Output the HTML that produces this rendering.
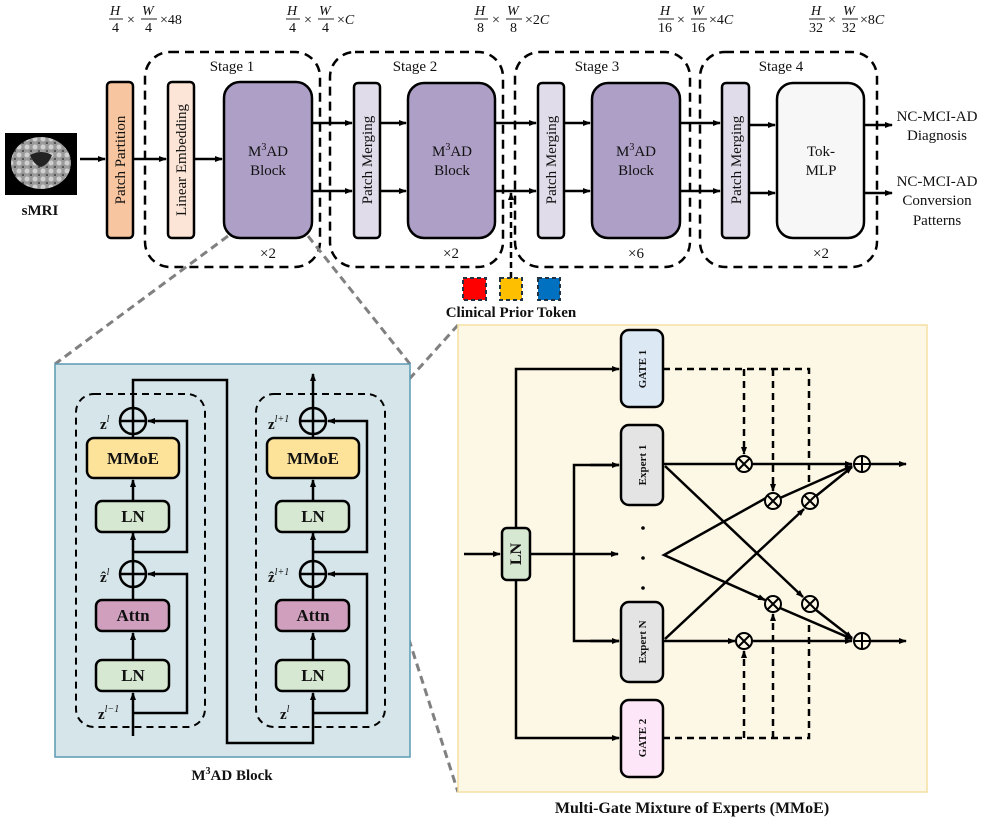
<!DOCTYPE html>
<html><head><meta charset="utf-8"><style>
html,body{margin:0;padding:0;background:#fff}
svg{display:block}
text{font-family:"Liberation Serif",serif;fill:#111}
</style></head><body>
<svg width="997" height="830" viewBox="0 0 997 830" xmlns="http://www.w3.org/2000/svg">
<defs>
<marker id="a" markerWidth="8" markerHeight="8" refX="7" refY="4" orient="auto" markerUnits="userSpaceOnUse"><path d="M0,1 L8,4 L0,7 z" fill="#000"/></marker>
<pattern id="brain" width="8" height="8" patternUnits="userSpaceOnUse"><rect width="8" height="8" fill="#9a9a9a"/><circle cx="3" cy="3" r="2.5" fill="#d0d0d0"/><circle cx="7" cy="7" r="1.3" fill="#555"/></pattern>
</defs>

<!-- top formulas -->
<g font-size="14" font-style="italic">
<g transform="translate(110,0)"><text x="0" y="15">H</text><line x1="-1" y1="19" x2="13" y2="19" stroke="#222"/><text x="2" y="32" font-style="normal">4</text><text x="17" y="24" font-style="normal">×</text><text x="32" y="15">W</text><line x1="31" y1="19" x2="47" y2="19" stroke="#222"/><text x="35" y="32" font-style="normal">4</text><text x="50" y="24" font-style="normal">×48</text></g>
<g transform="translate(287,0)"><text x="0" y="15">H</text><line x1="-1" y1="19" x2="13" y2="19" stroke="#222"/><text x="2" y="32" font-style="normal">4</text><text x="17" y="24" font-style="normal">×</text><text x="32" y="15">W</text><line x1="31" y1="19" x2="47" y2="19" stroke="#222"/><text x="35" y="32" font-style="normal">4</text><text x="50" y="24"><tspan font-style="normal">×</tspan>C</text></g>
<g transform="translate(475,0)"><text x="0" y="15">H</text><line x1="-1" y1="19" x2="13" y2="19" stroke="#222"/><text x="2" y="32" font-style="normal">8</text><text x="17" y="24" font-style="normal">×</text><text x="32" y="15">W</text><line x1="31" y1="19" x2="47" y2="19" stroke="#222"/><text x="35" y="32" font-style="normal">8</text><text x="50" y="24"><tspan font-style="normal">×2</tspan>C</text></g>
<g transform="translate(659,0)"><text x="1" y="15">H</text><line x1="-1" y1="19" x2="15" y2="19" stroke="#222"/><text x="-1" y="32" font-style="normal">16</text><text x="18" y="24" font-style="normal">×</text><text x="33" y="15">W</text><line x1="32" y1="19" x2="48" y2="19" stroke="#222"/><text x="32" y="32" font-style="normal">16</text><text x="50" y="24"><tspan font-style="normal">×4</tspan>C</text></g>
<g transform="translate(810,0)"><text x="1" y="15">H</text><line x1="-1" y1="19" x2="15" y2="19" stroke="#222"/><text x="-1" y="32" font-style="normal">32</text><text x="18" y="24" font-style="normal">×</text><text x="33" y="15">W</text><line x1="32" y1="19" x2="48" y2="19" stroke="#222"/><text x="32" y="32" font-style="normal">32</text><text x="50" y="24"><tspan font-style="normal">×8</tspan>C</text></g>
</g>

<!-- stage boxes -->
<g fill="none" stroke="#000" stroke-width="2.5" stroke-dasharray="9,6">
<rect x="145" y="52" width="175" height="215" rx="25"/>
<rect x="330" y="52" width="173" height="215" rx="25"/>
<rect x="515" y="52" width="175" height="215" rx="25"/>
<rect x="700" y="52" width="177" height="215" rx="25"/>
</g>
<g font-size="15" text-anchor="middle">
<text x="232" y="71">Stage 1</text><text x="415" y="71">Stage 2</text><text x="597" y="71">Stage 3</text><text x="781" y="71">Stage 4</text>
<text x="268" y="258">×2</text><text x="451" y="258">×2</text><text x="636" y="258">×6</text><text x="821" y="258">×2</text>
</g>

<!-- sMRI -->
<rect x="5" y="133" width="72" height="62" fill="#000"/>
<ellipse cx="41" cy="163" rx="30" ry="26" fill="url(#brain)"/>
<path d="M30,155 q11,-6 22,0 q-4,10 -11,12 q-7,-2 -11,-12z" fill="#222"/>
<text x="40" y="215" font-size="15" font-weight="bold" text-anchor="middle">sMRI</text>

<!-- boxes -->
<g stroke="#000" stroke-width="2.5">
<rect x="107" y="82" width="26" height="156" rx="4" fill="#f7c59f"/>
<rect x="168" y="82" width="26" height="156" rx="4" fill="#fce4d6"/>
<rect x="224" y="82" width="88" height="156" rx="16" fill="#ae9fc6"/>
<rect x="354" y="83" width="26" height="155" rx="4" fill="#e0dcea"/>
<rect x="408" y="83" width="87" height="155" rx="16" fill="#ae9fc6"/>
<rect x="538" y="83" width="26" height="155" rx="4" fill="#e0dcea"/>
<rect x="592" y="83" width="88" height="155" rx="16" fill="#ae9fc6"/>
<rect x="722" y="83" width="27" height="155" rx="4" fill="#e0dcea"/>
<rect x="777" y="83" width="87" height="155" rx="16" fill="#f7f7f7"/>
</g>
<g font-size="15" text-anchor="middle">
<text transform="translate(125,160) rotate(-90)">Patch Partition</text>
<text transform="translate(186,160) rotate(-90)">Linear Embedding</text>
<text transform="translate(372,160) rotate(-90)">Patch Merging</text>
<text transform="translate(556,160) rotate(-90)">Patch Merging</text>
<text transform="translate(741,160) rotate(-90)">Patch Merging</text>
<text x="268" y="156">M<tspan font-size="10" dy="-6">3</tspan><tspan dy="6">AD</tspan></text><text x="268" y="175">Block</text>
<text x="452" y="156">M<tspan font-size="10" dy="-6">3</tspan><tspan dy="6">AD</tspan></text><text x="452" y="175">Block</text>
<text x="636" y="156">M<tspan font-size="10" dy="-6">3</tspan><tspan dy="6">AD</tspan></text><text x="636" y="175">Block</text>
<text x="821" y="156">Tok-</text><text x="821" y="175">MLP</text>
<text x="937" y="121">NC-MCI-AD</text><text x="937" y="140">Diagnosis</text>
<text x="937" y="186">NC-MCI-AD</text><text x="937" y="205">Conversion</text><text x="937" y="225">Patterns</text>
</g>
<g stroke="#000" stroke-width="2.5" fill="none" marker-end="url(#a)">
<line x1="80" y1="159" x2="105" y2="159"/>
<line x1="133" y1="159" x2="166" y2="159"/>
<line x1="194" y1="159" x2="222" y2="159"/>
<line x1="312" y1="123" x2="352" y2="123"/><line x1="312" y1="191" x2="352" y2="191"/>
<line x1="380" y1="123" x2="406" y2="123"/><line x1="380" y1="191" x2="406" y2="191"/>
<line x1="495" y1="123" x2="536" y2="123"/><line x1="495" y1="191" x2="536" y2="191"/>
<line x1="564" y1="123" x2="590" y2="123"/><line x1="564" y1="191" x2="590" y2="191"/>
<line x1="680" y1="123" x2="720" y2="123"/><line x1="680" y1="191" x2="720" y2="191"/>
<line x1="749" y1="125" x2="775" y2="125"/><line x1="749" y1="193" x2="775" y2="193"/>
<line x1="864" y1="125" x2="892" y2="125"/><line x1="864" y1="193" x2="892" y2="193"/>
<line x1="511" y1="278" x2="511" y2="193" stroke-dasharray="6,4"/>
</g>
<!-- clinical tokens -->
<g stroke="#234" stroke-width="2" stroke-dasharray="4,3">
<rect x="463" y="278" width="23" height="22" fill="#f00"/>
<rect x="500" y="278" width="22" height="22" fill="#fdbf00"/>
<rect x="538" y="278" width="22" height="22" fill="#0070c0"/>
</g>
<text x="511" y="317" font-size="15" font-weight="bold" text-anchor="middle">Clinical Prior Token</text>

<!-- gray zoom lines -->
<g stroke="#808080" stroke-width="3" stroke-dasharray="8,5" fill="none">
<line x1="228" y1="236" x2="55" y2="364"/>
<line x1="308" y1="236" x2="410" y2="364"/>
<line x1="357" y1="437" x2="458" y2="325"/>
<line x1="357" y1="478" x2="458" y2="792"/>
</g>

<!-- M3AD panel -->
<rect x="55" y="364" width="355" height="393" fill="#d5e5ea" stroke="#5a9ab2" stroke-width="1.5"/>
<g fill="none" stroke="#000" stroke-width="2" stroke-dasharray="7,5">
<rect x="76" y="394" width="129" height="333" rx="18"/>
<rect x="256" y="394" width="129" height="333" rx="18"/>
</g>
<g id="col">
<g stroke="#000" stroke-width="2.5" fill="none">
<line x1="133" y1="736" x2="133" y2="693" marker-end="url(#a)"/>
<line x1="133" y1="660" x2="133" y2="633" marker-end="url(#a)"/>
<line x1="133" y1="600" x2="133" y2="587"/>
<line x1="133" y1="561" x2="133" y2="533" marker-end="url(#a)"/>
<line x1="133" y1="501" x2="133" y2="480" marker-end="url(#a)"/>
<line x1="133" y1="438" x2="133" y2="434"/>
<polyline points="133,713 187,713 187,574 148,574" marker-end="url(#a)"/>
<polyline points="133,552 187,552 187,421 148,421" marker-end="url(#a)"/>
<circle cx="133" cy="421" r="13"/><line x1="120" y1="421" x2="146" y2="421"/><line x1="133" y1="408" x2="133" y2="434"/>
<circle cx="133" cy="574" r="13"/><line x1="120" y1="574" x2="146" y2="574"/><line x1="133" y1="561" x2="133" y2="587"/>
</g>
<g stroke="#000" stroke-width="2.5">
<rect x="87" y="438" width="92" height="40" rx="7" fill="#fde39a"/>
<rect x="96" y="501" width="73" height="31" rx="6" fill="#d6e8d2"/>
<rect x="96" y="600" width="73" height="31" rx="6" fill="#cf9fbd"/>
<rect x="96" y="660" width="73" height="31" rx="6" fill="#d6e8d2"/>
</g>
<g font-size="17" font-weight="bold" text-anchor="middle">
<text x="133" y="464">MMoE</text><text x="133" y="522">LN</text><text x="133" y="621">Attn</text><text x="133" y="681">LN</text>
</g>
</g>
<use href="#col" x="180"/>
<g stroke="#000" stroke-width="2.5" fill="none">
<polyline points="133,408 133,380 227,380 227,743 313,743 313,736"/>
<line x1="313" y1="408" x2="313" y2="374" marker-end="url(#a)"/>
</g>
<g font-size="15" font-weight="bold">
<text x="100" y="429">z<tspan font-size="10" dy="-7" font-style="italic" font-weight="normal">l</tspan></text>
<text x="100" y="582">ẑ<tspan font-size="10" dy="-7" font-style="italic" font-weight="normal">l</tspan></text>
<text x="98" y="719">z<tspan font-size="10" dy="-7" font-style="italic" font-weight="normal">l−1</tspan></text>
<text x="268" y="429">z<tspan font-size="10" dy="-7" font-style="italic" font-weight="normal">l+1</tspan></text>
<text x="268" y="582">ẑ<tspan font-size="10" dy="-7" font-style="italic" font-weight="normal">l+1</tspan></text>
<text x="280" y="719">z<tspan font-size="10" dy="-7" font-style="italic" font-weight="normal">l</tspan></text>
</g>
<text x="232" y="780" font-size="15" font-weight="bold" text-anchor="middle">M<tspan font-size="10" dy="-6">3</tspan><tspan dy="6">AD Block</tspan></text>

<!-- MMoE panel -->
<rect x="458" y="325" width="469" height="467" fill="#fdf8e6" stroke="#f5dfa0" stroke-width="1.5"/>
<g stroke="#000" stroke-width="2.5" fill="none">
<line x1="464" y1="554" x2="500" y2="554" marker-end="url(#a)"/>
<polyline points="516,528 516,369 619,369" marker-end="url(#a)"/>
<polyline points="516,580 516,738 619,738" marker-end="url(#a)"/>
<line x1="530" y1="554" x2="618" y2="554" marker-end="url(#a)"/>
<polyline points="619,465 574,465 574,641 619,641"/>
<line x1="590" y1="465" x2="619" y2="465" marker-end="url(#a)"/>
<line x1="590" y1="641" x2="619" y2="641" marker-end="url(#a)"/>
<line x1="663" y1="464" x2="736" y2="464"/>
<line x1="752" y1="464" x2="852" y2="464" marker-end="url(#a)"/>
<line x1="663" y1="641" x2="735" y2="641" marker-end="url(#a)"/>
<line x1="752" y1="641" x2="852" y2="641" marker-end="url(#a)"/>
<line x1="665" y1="466" x2="803" y2="597" marker-end="url(#a)"/>
<line x1="665" y1="639" x2="804" y2="509" marker-end="url(#a)"/>
<polyline points="766,498 664,555 765,600" marker-end="url(#a)"/>
<line x1="780" y1="498" x2="852" y2="466" marker-end="url(#a)"/>
<line x1="816" y1="496" x2="852" y2="467" marker-end="url(#a)"/>
<line x1="780" y1="608" x2="852" y2="639" marker-end="url(#a)"/>
<line x1="816" y1="610" x2="852" y2="638" marker-end="url(#a)"/>
<line x1="870" y1="464" x2="906" y2="464" marker-end="url(#a)"/>
<line x1="870" y1="641" x2="906" y2="641" marker-end="url(#a)"/>
</g>
<g stroke="#000" stroke-width="2.5" fill="none" stroke-dasharray="7,5">
<polyline points="663,369 809,369 809,486"/>
<line x1="744" y1="369" x2="744" y2="454" marker-end="url(#a)"/>
<line x1="773" y1="369" x2="773" y2="491" marker-end="url(#a)"/>
<polyline points="663,738 809,738 809,621"/>
<line x1="744" y1="738" x2="744" y2="651" marker-end="url(#a)"/>
<line x1="773" y1="738" x2="773" y2="614" marker-end="url(#a)"/>
</g>
<g stroke="#000" stroke-width="2" fill="#fdf8e6">
<g id="mx"><circle cx="744" cy="464" r="8"/><path d="M738.5,458.5 l11,11 M749.5,458.5 l-11,11" fill="none"/></g>
<use href="#mx" x="29" y="37"/><use href="#mx" x="66" y="37"/>
<use href="#mx" x="29" y="140"/><use href="#mx" x="66" y="140"/><use href="#mx" x="0" y="177"/>
<g id="pl"><circle cx="862" cy="464" r="8"/><path d="M854,464 h16 M862,456 v16" fill="none"/></g>
<use href="#pl" y="177"/>
</g>
<g stroke="#000" stroke-width="2.5">
<rect x="502" y="528" width="28" height="52" rx="5" fill="#d6e8d2"/>
<rect x="621" y="330" width="42" height="77" rx="8" fill="#dde8f5"/>
<rect x="621" y="425" width="42" height="80" rx="8" fill="#e4e4e4"/>
<rect x="621" y="602" width="42" height="80" rx="8" fill="#e4e4e4"/>
<rect x="621" y="700" width="42" height="77" rx="8" fill="#fde6f7"/>
</g>
<g fill="#000"><circle cx="643" cy="528" r="1.8"/><circle cx="643" cy="558" r="1.8"/><circle cx="643" cy="588" r="1.8"/></g>
<g font-weight="bold" text-anchor="middle">
<text transform="translate(521,554) rotate(-90)" font-size="16">LN</text>
<text transform="translate(646,369) rotate(-90)" font-size="11">GATE 1</text>
<text transform="translate(646,465) rotate(-90)" font-size="11">Expert 1</text>
<text transform="translate(646,642) rotate(-90)" font-size="11">Expert N</text>
<text transform="translate(646,738) rotate(-90)" font-size="11">GATE 2</text>
</g>
<text x="692" y="813" font-size="16" font-weight="bold" text-anchor="middle">Multi-Gate Mixture of Experts (MMoE)</text>
</svg>
</body></html>
